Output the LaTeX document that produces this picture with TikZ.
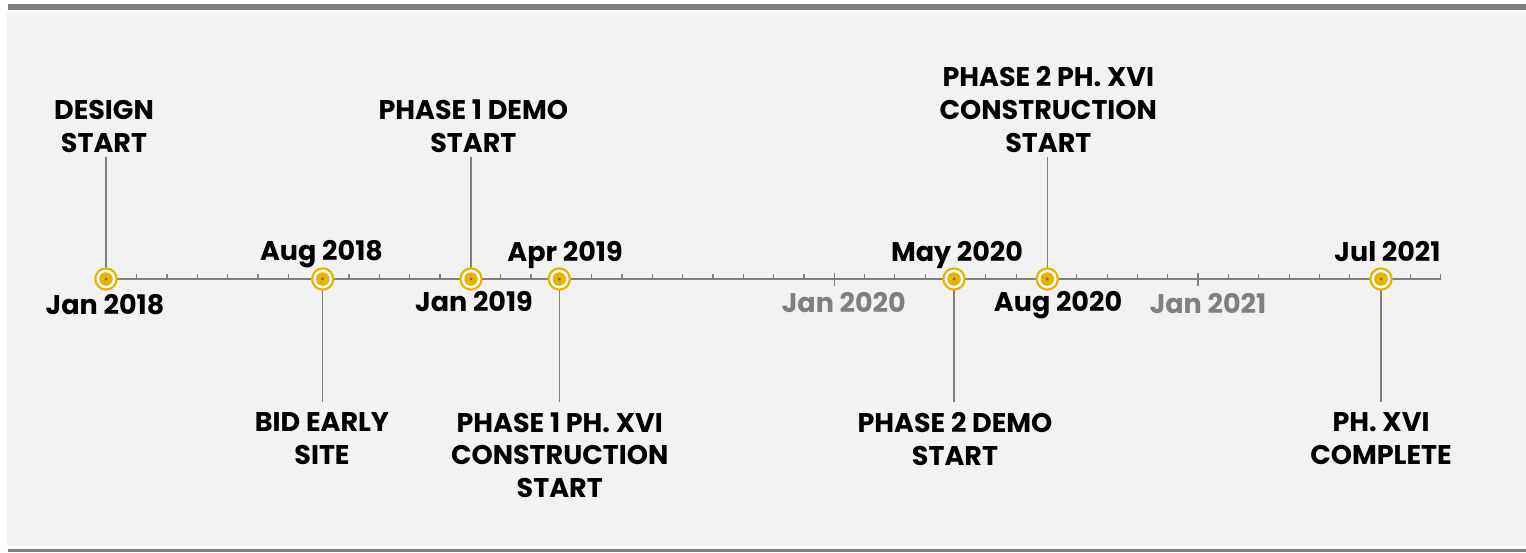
\documentclass[tikz,border=0pt]{standalone}
\usepackage{fontspec}
\setmainfont{Poppins}
\definecolor{barc}{HTML}{808080}
\definecolor{panel}{HTML}{F2F2F2}
\definecolor{gold}{HTML}{E6B400}
\definecolor{axisgray}{HTML}{808080}
\definecolor{dategray}{HTML}{7F7F7F}
\definecolor{dotgray}{HTML}{6A6A6A}
\begin{document}
\begin{tikzpicture}[x=1pt,y=-1pt,
  lbl/.style={font=\fontsize{27}{32.7}\selectfont\bfseries, align=center, text=black, inner xsep=0pt},
  toplbl/.style={lbl, anchor=south, inner ysep=4pt},
  botlbl/.style={lbl, anchor=north, inner ysep=10.5pt},
  datelbl/.style={font=\fontsize{27}{32.7}\selectfont\bfseries, anchor=base, inner sep=0pt, text=black},
  graydate/.style={datelbl, text=dategray},
  conn/.style={draw=axisgray, line width=1.3pt},
  milestone/.style={circle, draw=gold, line width=2.2pt, fill=white, minimum size=21.2pt, inner sep=0pt,
    path picture={\fill[gold] (path picture bounding box.center) circle (6.8pt);
                  \fill[dotgray] (path picture bounding box.center) circle (1.5pt);}}
]
\useasboundingbox (0,0) rectangle (1526,552);
% frame
\fill[panel] (7,12) rectangle (1526,546);
\fill[barc] (8,4) rectangle (1526,10);
\fill[barc] (8,549) rectangle (1526,552);
% axis
\draw[axisgray, line width=2pt] (106,279) -- (1440.7,279);
\foreach \k in {1,...,44}{
  \draw[axisgray, line width=1.2pt] ({106.4+30.326*\k},279) -- ++(0,-5);
}
\foreach \k in {24,36}{
  \draw[axisgray, line width=1.4pt] ({106.4+30.326*\k},272.5) -- ++(0,13);
}
% labels
\node[toplbl] (l1) at (104,156.5) {DESIGN\\START};
\node[botlbl] (l2) at (322,401.7) {BID EARLY\\SITE};
\node[toplbl] (l3) at (473.3,156.5) {PHASE 1 DEMO\\START};
\node[botlbl] (l4) at (559.7,401.7) {PHASE 1 PH. XVI\\CONSTRUCTION\\START};
\node[botlbl] (l5) at (955,401.7) {PHASE 2 DEMO\\START};
\node[toplbl] (l6) at (1048.3,156.5) {PHASE 2 PH. XVI\\CONSTRUCTION\\START};
\node[botlbl] (l7) at (1381,401.7) {PH. XVI\\COMPLETE};
% markers
\coordinate (p1) at (106,279);
\coordinate (p2) at (322.7,279);
\coordinate (p3) at (471,279);
\coordinate (p4) at (559.3,279);
\coordinate (p5) at (954,279);
\coordinate (p6) at (1047.3,279);
\coordinate (p7) at (1381,279);
\draw[conn] (p1) -- (p1 |- l1.south);
\draw[conn] (p2) -- (p2 |- l2.north);
\draw[conn] (p3) -- (p3 |- l3.south);
\draw[conn] (p4) -- (p4 |- l4.north);
\draw[conn] (p5) -- (p5 |- l5.north);
\draw[conn] (p6) -- (p6 |- l6.south);
\draw[conn] (p7) -- (p7 |- l7.north);
\node[milestone] (m1) at (p1) {};
\node[milestone] (m2) at (p2) {};
\node[milestone] (m3) at (p3) {};
\node[milestone] (m4) at (p4) {};
\node[milestone] (m5) at (p5) {};
\node[milestone] (m6) at (p6) {};
\node[milestone] (m7) at (p7) {};
% dates
\node[datelbl] (d1) at (105,314) {Jan 2018};
\node[datelbl] (d2) at (321.5,260) {Aug 2018};
\node[datelbl] (d3) at (474,311.7) {Jan 2019};
\node[datelbl] (d4) at (565,261.7) {Apr 2019};
\node[graydate] (d5) at (843.8,312) {Jan 2020};
\node[datelbl] (d6) at (957,261.7) {May 2020};
\node[datelbl] (d7) at (1058,311.7) {Aug 2020};
\node[graydate] (d8) at (1208,313) {Jan 2021};
\node[datelbl] (d9) at (1387.5,261.7) {Jul 2021};
\end{tikzpicture}
\end{document}
